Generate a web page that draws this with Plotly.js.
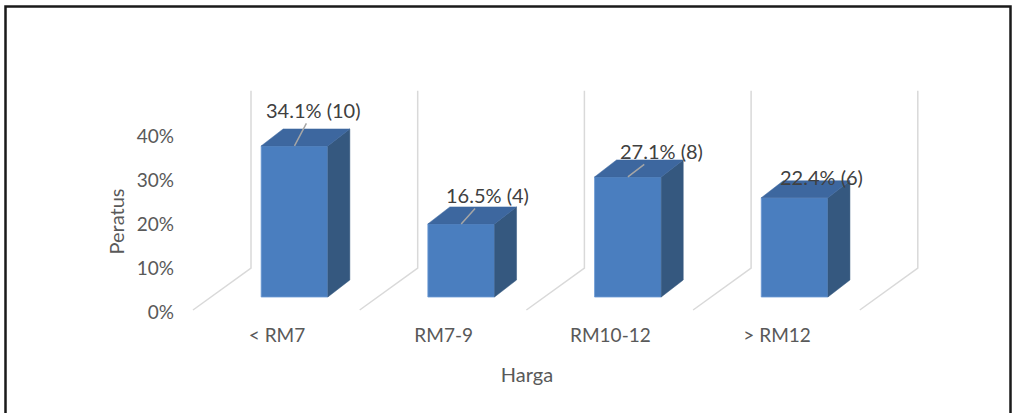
<!DOCTYPE html>
<html>
<head>
<meta charset="utf-8">
<script src="https://cdn.plot.ly/plotly-3.0.1.min.js"></script>
<style>html,body{margin:0;padding:0;background:#fff;}#chart{width:1013px;height:413px;}</style>
</head>
<body>
<div id="chart"></div>
<script>
// ---- data ----
const categories = ['< RM7', 'RM7-9', 'RM10-12', '> RM12'];
const percents = [34.1, 16.5, 27.1, 22.4];
const counts = [10, 4, 8, 6];
const yTickValues = [0, 10, 20, 30, 40];
const yTickLabels = ['0%', '10%', '20%', '30%', '40%'];
const xTitle = 'Harga';
const yTitle = 'Peratus';

// ---- layout geometry (pixels) ----
const W = 1013, H = 413;
const M = {l: 180, r: 40, t: 40, b: 91};
const plotL = M.l, plotR = W - M.r, plotT = M.t, plotB = H - M.b;
const catPx = 166.7;              // px per category
const barX0 = 294.5, barY0 = 297, barUnit = 443;   // bar front plane
const frontX0 = 277, frontY0 = 312.7, frontUnit = 442; // front (label) plane
const y2TopPx = 121, x2RightPx = 874;
const barWidth = 0.4;
const depthDx = 22 / catPx, depthDy = 17 / barUnit;        // bar depth
const backDx = 39.85 / catPx, backDy = 29 / barUnit;       // back wall offset
const floorDx = -18.15 / catPx, floorDy = -13 / barUnit;   // floor front offset
const wallMax = 0.40;
const labelOffsets = [[19, -36], [26, -29], [34, -26], [27, -21]];
const showLeader = [true, true, true, false];

const C = {front: '#4A7EBF', top: '#3D679F', side: '#35587F', wall: '#D9D9D9',
           leader: '#A6A6A6', label: '#404040', tick: '#595959'};
const FONT = 'Lato, "Open Sans", sans-serif';

const vals = percents.map(p => p / 100);
const idx = categories.map((_, i) => i);

// ---- back wall and floor lines ----
const wx = [], wy = [];
for (let k = 0; k <= categories.length; k++) {
  const bx = k - 0.5 + backDx;
  wx.push(bx + (floorDx - backDx), bx, bx, null);
  wy.push(floorDy, backDy, backDy + wallMax, null);
}
const wallTrace = {x: wx, y: wy, type: 'scatter', mode: 'lines', xaxis: 'x', yaxis: 'y',
  line: {color: C.wall, width: 1.5}, hoverinfo: 'skip', showlegend: false, connectgaps: false};

// ---- front faces (bars) ----
const barTrace = {x: idx, y: vals, type: 'bar', width: barWidth, xaxis: 'x', yaxis: 'y',
  marker: {color: C.front, line: {color: '#6D9BD4', width: 0.8}},
  hovertext: categories, hoverinfo: 'text+y', showlegend: false};

// ---- side and top faces ----
const sx = [], sy = [], tx = [], ty = [];
vals.forEach((v, i) => {
  const r = i + barWidth / 2, l = i - barWidth / 2;
  sx.push(r, r + depthDx, r + depthDx, r, r, null);
  sy.push(0, depthDy, v + depthDy, v, 0, null);
  tx.push(l, r, r + depthDx, l + depthDx, l, null);
  ty.push(v, v, v + depthDy, v + depthDy, v, null);
});
const sideTrace = {x: sx, y: sy, type: 'scatter', mode: 'lines', fill: 'toself', fillcolor: C.side,
  line: {color: C.side, width: 0.5}, xaxis: 'x', yaxis: 'y', hoverinfo: 'skip', showlegend: false};
const topTrace = {x: tx, y: ty, type: 'scatter', mode: 'lines', fill: 'toself', fillcolor: C.top,
  line: {color: C.top, width: 0.5}, xaxis: 'x', yaxis: 'y', hoverinfo: 'skip', showlegend: false};

// front-plane axes carry tick labels and titles
const axisTrace = {x: [], y: [], type: 'scatter', mode: 'markers', xaxis: 'x2', yaxis: 'y2',
  hoverinfo: 'skip', showlegend: false};

// ---- data labels ----
const annotations = vals.map((v, i) => {
  const txt = percents[i].toFixed(1) + '% (' + counts[i] + ')';
  const a = {x: i, y: v, xref: 'x', yref: 'y', text: txt,
    font: {family: FONT, size: 20, color: C.label}};
  if (showLeader[i]) {
    Object.assign(a, {showarrow: true, ax: labelOffsets[i][0], ay: labelOffsets[i][1],
      arrowhead: 0, arrowwidth: 1.5, arrowcolor: C.leader, standoff: 0, startstandoff: 0});
  } else {
    Object.assign(a, {showarrow: false, xshift: labelOffsets[i][0], yshift: -labelOffsets[i][1]});
  }
  return a;
});

const pw = plotR - plotL, ph = plotB - plotT;
const px2x = p => (p - plotL) / pw, px2y = p => (plotB - p) / ph;

const layout = {
  width: W, height: H, margin: M,
  paper_bgcolor: '#ffffff', plot_bgcolor: 'rgba(0,0,0,0)',
  showlegend: false,
  xaxis: {range: [(plotL - barX0) / catPx, (plotR - barX0) / catPx], visible: false, fixedrange: true,
    domain: [0, 1], anchor: 'y'},
  yaxis: {range: [(barY0 - plotB) / barUnit, (barY0 - plotT) / barUnit], visible: false, fixedrange: true,
    domain: [0, 1], anchor: 'x'},
  xaxis2: {range: [(plotL - frontX0) / catPx, (x2RightPx - frontX0) / catPx],
    domain: [0, px2x(x2RightPx)], anchor: 'y2',
    tickmode: 'array', tickvals: idx, ticktext: categories,
    showgrid: false, zeroline: false, showline: false, ticks: '',
    tickfont: {family: FONT, size: 19, color: C.tick},
    title: {text: xTitle, font: {family: FONT, size: 20, color: C.tick}, standoff: 22},
    fixedrange: true},
  yaxis2: {range: [(frontY0 - plotB) / frontUnit, (frontY0 - y2TopPx) / frontUnit],
    domain: [0, px2y(y2TopPx)], anchor: 'x2',
    tickmode: 'array', tickvals: yTickValues.map(v => v / 100), ticktext: yTickLabels,
    showgrid: false, zeroline: false, showline: false, ticks: '', ticklabelstandoff: 5,
    tickfont: {family: FONT, size: 19, color: C.tick},
    title: {text: yTitle, font: {family: FONT, size: 20, color: C.tick}, standoff: 6},
    fixedrange: true},
  annotations: annotations,
  shapes: [{type: 'path', xref: 'paper', yref: 'paper',
    path: 'M ' + px2x(5.5) + ' ' + px2y(430) + ' L ' + px2x(5.5) + ' ' + px2y(6.5) +
          ' L ' + px2x(1010.5) + ' ' + px2y(6.5) + ' L ' + px2x(1010.5) + ' ' + px2y(430),
    line: {color: '#1a1a1a', width: 2.5}, layer: 'above'}]
};

Plotly.newPlot('chart', [wallTrace, barTrace, sideTrace, topTrace, axisTrace], layout,
  {displayModeBar: false, staticPlot: true});
</script>
</body>
</html>
